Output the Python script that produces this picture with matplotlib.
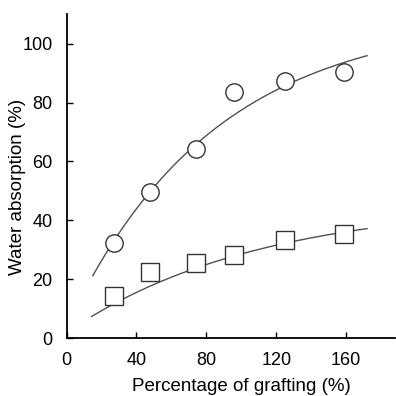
import numpy as np
import matplotlib.pyplot as plt

plt.rcParams['font.family'] = ['Liberation Sans', 'DejaVu Sans']

# Measured points (percentage of grafting vs water absorption)
graft = [27, 48, 74, 96, 125, 159]
absorb_circle = [32.3, 49.5, 64.3, 83.5, 87.4, 90.4]
absorb_square = [14.3, 22.5, 25.4, 28.2, 33.5, 35.5]

# Points
trend_c_x = [15, 27, 48, 74, 88.5, 99, 125, 158, 172]
trend_c_y = [22.5, 32, 49, 64, 73.5, 78.6, 87.3, 92.5, 95.2]
trend_s_x = [14.4, 27, 48.5, 74.5, 96, 125, 159, 172]
trend_s_y = [7.1, 11.6, 19.2, 23.5, 26.9, 32.9, 35.9, 37.4]


def saturation_fit(x, y):
    # y = a - b*exp(-k*x), k chosen by grid search
    x = np.asarray(x, float)
    y = np.asarray(y, float)
    best = None
    for k in np.linspace(0.001, 0.05, 500):
        A = np.column_stack([np.ones_like(x), -np.exp(-k * x)])
        coef, res, *_ = np.linalg.lstsq(A, y, rcond=None)
        err = np.sum((A @ coef - y) ** 2)
        if best is None or err < best[0]:
            best = (err, k, coef)
    _, k, (a, b) = best
    return lambda t: a - b * np.exp(-k * t)


fig = plt.figure(figsize=(3.96, 3.96), dpi=100)
ax = fig.add_axes([0.168, 0.1455, 0.8295, 0.819])

line_col = '#505050'
for tx, ty in [(trend_c_x, trend_c_y), (trend_s_x, trend_s_y)]:
    f = saturation_fit(tx, ty)
    xs = np.linspace(tx[0], tx[-1], 200)
    ax.plot(xs, f(xs), color=line_col, lw=1.0, zorder=2)

ax.plot(graft, absorb_circle, 'o', ms=12.5, mfc='white', mec='#333333', mew=1.0, zorder=3)
ax.plot(graft, absorb_square, 's', ms=12.5, mfc='white', mec='#333333', mew=1.0, zorder=3)

ax.set_xlim(0, 188)
ax.set_ylim(0, 110)
ax.set_xticks([0, 40, 80, 120, 160])
ax.set_yticks([0, 20, 40, 60, 80, 100])
ax.spines['top'].set_visible(False)
ax.spines['right'].set_visible(False)
ax.spines['left'].set_linewidth(1.3)
ax.spines['bottom'].set_linewidth(1.3)
ax.tick_params(direction='in', length=4.5, width=1.0, pad=10, labelsize=13, colors='black')
ax.set_xlabel('Percentage of grafting (%)', fontsize=13.5)
ax.set_ylabel('Water absorption (%)', fontsize=13.5)
ax.xaxis.set_label_coords(0.531, -0.122)
ax.yaxis.set_label_coords(-0.123, 0.468)

fig.savefig('out.png', dpi=100)
